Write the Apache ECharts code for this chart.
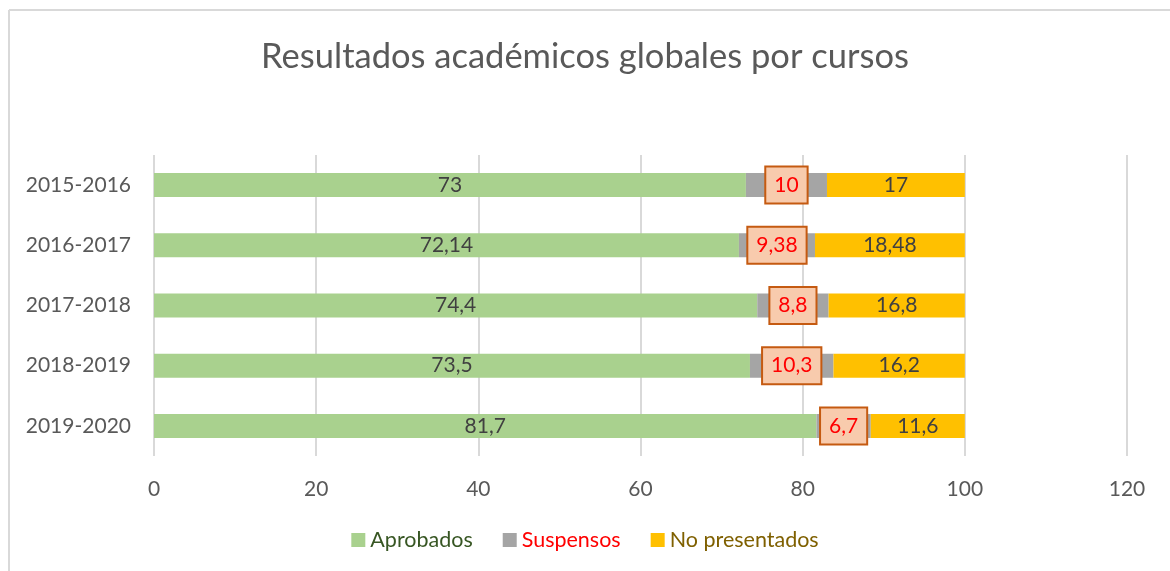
<!DOCTYPE html>
<html>
<head>
<meta charset="utf-8">
<script src="https://cdn.jsdelivr.net/npm/echarts@6/dist/echarts.min.js"></script>
<style>
  html, body { margin: 0; padding: 0; background: #fff; }
  #chart { width: 1170px; height: 571px; }
</style>
</head>
<body>
<div id="chart"></div>
<script>
// cursos, de arriba abajo
const cursos = ['2015-2016', '2016-2017', '2017-2018', '2018-2019', '2019-2020'];
const aprobados = [73, 72.14, 74.4, 73.5, 81.7];
const suspensos = [10, 9.38, 8.8, 10.3, 6.7];
const noPresentados = [17, 18.48, 16.8, 16.2, 11.6];
const xTicks = [0, 20, 40, 60, 80, 100, 120];

const FONT = 'Lato, "Open Sans", sans-serif';
const fmt = p => String(p.value).replace('.', ',');

let myChart = echarts.init(document.getElementById('chart'));

let option = {
  backgroundColor: '#fff',
  animation: false,
  textStyle: { fontFamily: FONT },
  title: {
    text: 'Resultados académicos globales por cursos',
    left: 'center',
    top: 34,
    textStyle: { fontFamily: FONT, fontSize: 34.5, fontWeight: 'normal', color: '#595959' }
  },
  legend: {
    bottom: 15,
    left: 'center',
    itemWidth: 14,
    itemHeight: 14,
    itemGap: 30,
    icon: 'rect',
    textStyle: { fontFamily: FONT, fontSize: 21.5 },
    data: [
      { name: 'Aprobados', textStyle: { color: '#375623' } },
      { name: 'Suspensos', textStyle: { color: '#FF0000' } },
      { name: 'No presentados', textStyle: { color: '#7F6000' } }
    ]
  },
  grid: { left: 154, right: 43, top: 155, bottom: 115 },
  xAxis: {
    type: 'value',
    min: xTicks[0],
    max: xTicks[xTicks.length - 1],
    interval: 20,
    axisLine: { show: false },
    axisTick: { show: false },
    splitLine: { lineStyle: { color: '#D9D9D9', width: 2 } },
    axisLabel: { color: '#595959', fontSize: 21, fontFamily: FONT, margin: 23 }
  },
  yAxis: {
    type: 'category',
    inverse: true,
    data: cursos,
    axisLine: { show: false },
    axisTick: { show: false },
    axisLabel: { color: '#595959', fontSize: 21, fontFamily: FONT, margin: 23 }
  },
  series: [
    {
      name: 'Aprobados',
      type: 'bar',
      stack: 'total',
      barWidth: 24,
      data: aprobados,
      itemStyle: { color: '#A9D18E' },
      label: { show: true, position: 'inside', formatter: fmt, color: '#404040', fontSize: 21, fontFamily: FONT }
    },
    {
      name: 'Suspensos',
      type: 'bar',
      stack: 'total',
      data: suspensos,
      itemStyle: { color: '#A5A5A5' },
      label: {
        show: true, position: 'inside', formatter: fmt,
        color: '#FF0000', fontSize: 21, fontFamily: FONT,
        backgroundColor: '#F8CBAD', borderColor: '#C55A11', borderWidth: 2,
        padding: [8, 8, 6, 8]
      }
    },
    {
      name: 'No presentados',
      type: 'bar',
      stack: 'total',
      data: noPresentados,
      itemStyle: { color: '#FFC000' },
      label: { show: true, position: 'inside', formatter: fmt, color: '#404040', fontSize: 21, fontFamily: FONT }
    }
  ],
  graphic: [
    { type: 'line', shape: { x1: 9, y1: 10, x2: 1170, y2: 10 }, style: { stroke: '#D9D9D9', lineWidth: 2 } },
    { type: 'line', shape: { x1: 9, y1: 10, x2: 9, y2: 571 }, style: { stroke: '#D9D9D9', lineWidth: 2 } }
  ]
};

myChart.setOption(option);
window.onresize = myChart.resize;
</script>
</body>
</html>
